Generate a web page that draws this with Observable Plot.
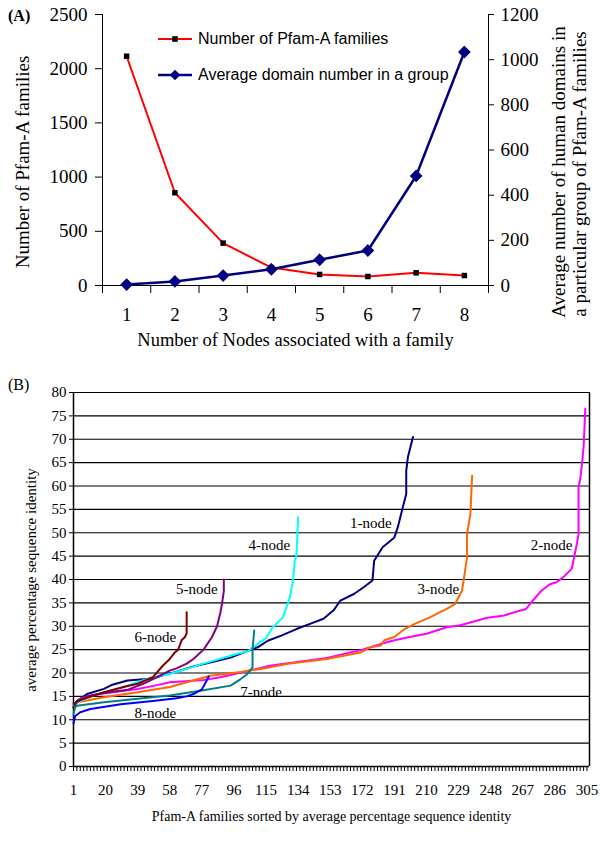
<!DOCTYPE html>
<html><head><meta charset="utf-8">
<script src="https://cdn.jsdelivr.net/npm/d3@7"></script>
<script src="https://cdn.jsdelivr.net/npm/@observablehq/plot@0.6"></script>
<style>
body{margin:0;background:#fff;}
#wrap{position:relative;width:600px;height:846px;overflow:hidden;background:#fff;}
#a,#b{position:absolute;left:0;}
#a{top:0}
#b{top:360px}
#a svg text,#b svg text{font-family:"Liberation Serif","Times New Roman",serif;}
.legend{position:absolute;font-family:"Liberation Sans",Arial,sans-serif;font-size:16px;color:#000;display:flex;align-items:center;height:20px;white-space:nowrap;}
.legend svg{margin-right:4px;}
.plabel{position:absolute;font-family:"Liberation Serif","Times New Roman",serif;color:#000;line-height:1;}
</style></head><body>
<div id="wrap">
<div id="a"></div><div id="b"></div>
<div class="plabel" style="left:8px;top:8px;font-size:16px;font-weight:bold">(A)</div>
<div class="plabel" style="left:8px;top:377px;font-size:16px;">(B)</div>
<div class="legend" style="left:158px;top:29px;"><svg width="36" height="20"><line x1="0" x2="34" y1="10" y2="10" stroke="#ff0000" stroke-width="2"/><rect x="14.2" y="7.2" width="5.6" height="5.6" fill="#000"/></svg>Number of Pfam-A families</div>
<div class="legend" style="left:158px;top:65px;"><svg width="36" height="20"><line x1="0" x2="34" y1="10" y2="10" stroke="#000080" stroke-width="2.5"/><path d="M17,4.7L22.3,10L17,15.3L11.7,10Z" fill="#000080"/></svg>Average domain number in a group</div>
</div>
<script>
// ---------- Panel A data ----------
const nodes = [1, 2, 3, 4, 5, 6, 7, 8];
const pfamFamilies = [2115, 856, 391, 165, 102, 83, 117, 92];
const avgDomains = [4, 18, 44, 72, 114, 155, 485, 1034];
const leftTicks = [0, 500, 1000, 1500, 2000, 2500];
const rightTicks = [0, 200, 400, 600, 800, 1000, 1200];

// ---------- Panel B data (rank, average % identity) ----------
const node1X = [1,3,9,19,24,33,48,55,62,72,85,94,102,110,116,124,133,141,149,155,159,167,173,178,179,184,191,193,196,198,198,199,202];
const node1Y = [12.7,14.0,15.5,16.6,17.5,18.4,18.8,19.6,20.3,21.4,22.5,23.3,24.4,25.5,26.9,28.0,29.4,30.5,31.6,33.4,35.5,36.9,38.4,39.8,44.0,46.9,49.0,51.2,55.5,58.3,63.3,66.2,70.5];
const node2X = [1,5,12,29,39,49,58,78,88,106,118,128,151,172,183,191,200,210,222,230,246,256,262,269,272,278,283,287,291,296,297,299,300,300,301,302,303,304];
const node2Y = [12.8,14.5,15.3,16.1,16.6,17.3,18.0,18.5,19.1,20.6,21.6,22.1,23.2,25.0,26.2,27.0,27.7,28.4,29.8,30.2,31.8,32.3,33.0,33.7,35.1,37.6,39.0,39.4,40.5,42.3,44.1,47.6,49.7,59.7,61.5,64.4,68.3,76.5];
const node3X = [1,4,9,19,39,58,82,100,117,128,151,171,177,183,185,191,197,203,212,218,222,227,231,232,234,234,236,237];
const node3Y = [13.0,13.8,14.1,14.8,15.9,17.0,19.4,20.2,21.2,22.0,23.0,24.4,25.5,25.9,27.0,27.7,29.4,30.5,31.9,33.0,33.7,34.8,37.6,39.8,44.8,49.7,54.0,62.2];
const node4X = [1,5,13,33,40,48,58,78,98,104,110,115,119,125,129,131,132,133,134];
const node4Y = [13.0,14.0,15.2,17.3,18.2,19.1,19.8,22.0,24.1,24.6,26.2,27.5,29.8,31.9,36.0,39.8,44.0,45.1,53.3];
const node5X = [1,2,9,19,33,43,53,58,62,68,72,78,83,86,88,89,90,90];
const node5Y = [13.4,13.6,15.0,15.7,16.4,17.8,19.6,20.5,21.0,22.0,23.0,25.0,27.7,30.0,33.0,35.0,37.5,40.0];
const node6X = [1,3,9,19,33,39,48,54,58,61,63,65,67,68,68];
const node6Y = [12.6,14.0,14.7,15.9,17.2,17.7,19.1,21.6,23.0,24.4,25.0,27.0,27.7,28.5,33.0];
const node7X = [1,2,3,19,39,58,78,94,100,104,107,107,108];
const node7Y = [11.2,12.7,13.0,13.75,14.5,15.2,16.3,17.3,18.7,19.8,21.2,25.0,29.1];
const node8X = [1,2,5,11,29,48,62,68,72,77,79,81];
const node8Y = [9.2,10.8,11.6,12.3,13.3,14.0,14.6,15.0,15.5,16.5,17.8,19.2];
const seriesNames = ["1-node","2-node","3-node","4-node","5-node","6-node","7-node","8-node"];
const seriesColors = ["#000080","#ff00ff","#ff6600","#00ffff","#800080","#800000","#008080","#0000ff"];
const labelX = [177, 284, 217, 117, 74, 49.5, 112, 49.5];
const labelY = [52.0, 47.3, 37.9, 47.3, 37.9, 27.7, 15.9, 11.4];
const yTicksB = [0,5,10,15,20,25,30,35,40,45,50,55,60,65,70,75,80];
const xTickLabelsB = [1,20,39,58,77,96,115,134,153,172,191,210,229,248,267,286,305];

const serif = '"Liberation Serif","Times New Roman",serif';

function addRotated(svg, text, x, y, size) {
  d3.select(svg).append("text")
    .attr("transform", `translate(${x},${y}) rotate(-90)`)
    .attr("text-anchor", "middle")
    .attr("dominant-baseline", "central")
    .attr("font-family", serif)
    .attr("font-size", size)
    .attr("fill", "#000")
    .text(text);
}

// ---------- Panel A ----------
const k = 2500 / 1200;
const dataA = nodes.map((n, i) => ({node: n, fam: pfamFamilies[i], avg: avgDomains[i]}));
const bounds = d3.range(0.5, 9, 1);
const A = Plot.plot({
  width: 600, height: 360,
  marginTop: 14, marginBottom: 75, marginLeft: 102, marginRight: 112,
  x: {domain: [0.5, 8.5], axis: null},
  y: {domain: [0, 2500], axis: null},
  style: {fontFamily: serif, fontSize: "19px", color: "#000", background: "#fff", overflow: "visible"},
  marks: [
    Plot.axisY({ticks: leftTicks, tickSize: 7, tickPadding: 8, tickFormat: d => String(d), fontSize: 19, fontFamily: serif, label: null}),
    Plot.axisY({anchor: "right", ticks: rightTicks.map(v => v * k), tickFormat: d => String(Math.round(d / k)), tickSize: 5, tickPadding: 7, fontSize: 19, fontFamily: serif, label: null}),
    Plot.axisX({ticks: bounds, tickSize: 8, tickFormat: () => "", label: null}),
    Plot.axisX({ticks: nodes, tickSize: 0, tickPadding: 22, tickFormat: d => String(d), fontSize: 19, fontFamily: serif, label: null}),
    Plot.ruleX([0.5, 8.5], {stroke: "#000"}),
    Plot.ruleY([0], {stroke: "#000"}),
    Plot.line(dataA, {x: "node", y: "fam", stroke: "#ff0000", strokeWidth: 2}),
    Plot.dot(dataA, {x: "node", y: "fam", symbol: "square", r: 3.1, fill: "#000", stroke: "none"}),
    Plot.line(dataA, {x: "node", y: d => d.avg * k, stroke: "#000080", strokeWidth: 2.5}),
    Plot.dot(dataA, {x: "node", y: d => d.avg * k, symbol: "diamond2", r: 4.8, fill: "#000080", stroke: "#000080"}),
    Plot.text(["Number of Nodes associated with a family"], {text: d => d, frameAnchor: "bottom", dy: 60, fontSize: 18.5, fontFamily: serif})
  ]
});
addRotated(A, "Number of Pfam-A families", 22, 162, 19);
addRotated(A, "Average number of human domains in", 558, 172, 19);
addRotated(A, "a particular group of Pfam-A families", 579, 174, 19);
d3.select(A).selectAll("text").attr("font-family", serif);
document.getElementById("a").appendChild(A);

// ---------- Panel B ----------
const allX = [node1X,node2X,node3X,node4X,node5X,node6X,node7X,node8X];
const allY = [node1Y,node2Y,node3Y,node4Y,node5Y,node6Y,node7Y,node8Y];
const seriesLines = allX.map((xs, s) => Plot.line(xs.map((x, i) => ({rank: x, pid: allY[s][i]})),
  {x: "rank", y: "pid", stroke: seriesColors[s], strokeWidth: 2}));
const labels = seriesNames.map((t, i) => ({t, x: labelX[i], y: labelY[i]}));
const B = Plot.plot({
  width: 600, height: 486,
  marginTop: 32, marginBottom: 80, marginLeft: 73, marginRight: 11,
  x: {domain: [1, 306.5], axis: null},
  y: {domain: [0, 80], axis: null},
  style: {fontFamily: serif, fontSize: "15px", color: "#000", background: "#fff", overflow: "visible"},
  marks: [
    Plot.ruleY(yTicksB.filter(v => v > 0), {stroke: "#000", strokeWidth: 1.2}),
    Plot.axisY({ticks: yTicksB, tickSize: 4, tickPadding: 3, tickFormat: d => String(d), fontSize: 15, fontFamily: serif, label: null}),
    Plot.axisX({ticks: d3.range(1, 307, 2), tickSize: 5, tickFormat: () => "", label: null, strokeWidth: 1}),
    Plot.axisX({ticks: xTickLabelsB, tickSize: 0, tickPadding: 18, tickFormat: d => String(d), fontSize: 15, fontFamily: serif, label: null}),
    Plot.ruleY([0], {stroke: "#000", strokeWidth: 1.5}),
    Plot.ruleX([1], {stroke: "#000", strokeWidth: 1.5}),
    Plot.ruleX([306.5], {stroke: "#000", strokeWidth: 1.5}),
    ...seriesLines,
    Plot.text(labels, {x: "x", y: "y", text: "t", fontSize: 15, fontFamily: serif}),
    Plot.text(["Pfam-A families sorted by average percentage sequence identity"], {text: d => d, frameAnchor: "bottom", dy: 54, fontSize: 14, fontFamily: serif})
  ]
});
addRotated(B, "average percentage sequence identity", 31, 220, 15);
d3.select(B).selectAll("text").attr("font-family", serif);
document.getElementById("b").appendChild(B);
</script>
</body></html>
